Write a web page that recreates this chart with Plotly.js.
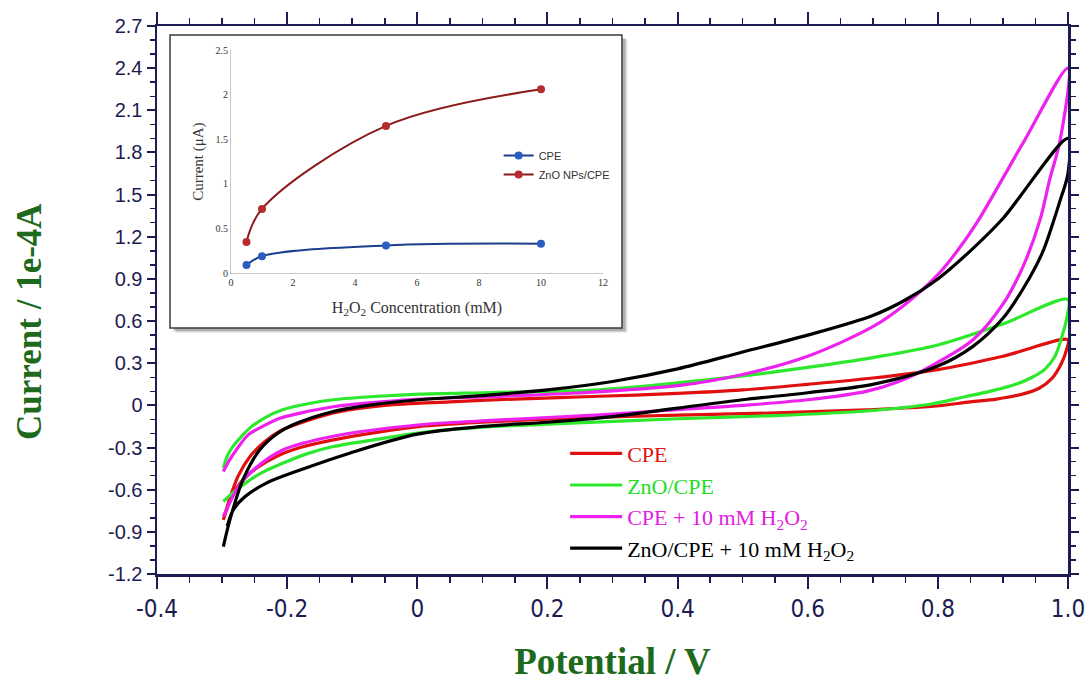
<!DOCTYPE html>
<html>
<head>
<meta charset="utf-8">
<script src="https://cdn.plot.ly/plotly-3.0.1.min.js"></script>
<style>
html,body{margin:0;padding:0;background:#fff;}
#chart{width:1088px;height:682px;}
</style>
</head>
<body>
<div id="chart"></div>
<script>
// ---- Main CV data (Potential / V, Current / 1e-4 A) ----
const potentialCPE = [-0.298,-0.288,-0.275,-0.257,-0.235,-0.21,-0.17,-0.12,-0.05,0.05,0.15,0.28,0.4,0.5,0.6,0.7,0.8,0.9,1.0,
  0.998,0.99,0.975,0.955,0.93,0.89,0.85,0.79,0.69,0.54,0.4,0.245,0.1,0.004,-0.06,-0.129,-0.18,-0.215,-0.245,-0.268,-0.285,-0.297];
const currentCPE = [-0.815,-0.66,-0.50,-0.364,-0.26,-0.18,-0.11,-0.045,0.0,0.025,0.045,0.065,0.085,0.11,0.15,0.195,0.255,0.35,0.467,
  0.40,0.30,0.19,0.12,0.08,0.045,0.025,-0.008,-0.031,-0.055,-0.07,-0.09,-0.12,-0.15,-0.19,-0.245,-0.30,-0.36,-0.44,-0.53,-0.65,-0.80];

const potentialZnO = [-0.298,-0.292,-0.283,-0.27,-0.257,-0.235,-0.206,-0.17,-0.129,-0.06,0.004,0.1,0.2,0.28,0.4,0.5,0.6,0.7,0.8,0.9,1.0,
  0.998,0.99,0.98,0.965,0.945,0.92,0.88,0.84,0.79,0.69,0.537,0.4,0.245,0.1,0.004,-0.06,-0.129,-0.17,-0.206,-0.235,-0.257,-0.28,-0.298];
const currentZnO = [-0.447,-0.36,-0.29,-0.22,-0.16,-0.09,-0.03,0.01,0.04,0.065,0.08,0.09,0.10,0.111,0.16,0.21,0.27,0.34,0.43,0.58,0.753,
  0.62,0.48,0.35,0.26,0.20,0.15,0.10,0.06,0.01,-0.04,-0.075,-0.095,-0.125,-0.155,-0.195,-0.24,-0.293,-0.345,-0.41,-0.47,-0.53,-0.61,-0.684];

const potentialCPEH2O2 = [-0.298,-0.29,-0.278,-0.26,-0.242,-0.21,-0.18,-0.129,-0.078,0.004,0.1,0.245,0.4,0.5,0.6,0.7,0.75,0.8,0.83,0.86,0.93,1.0,
  0.988,0.972,0.957,0.931,0.9,0.854,0.793,0.74,0.69,0.6,0.5,0.4,0.281,0.1,0.004,-0.129,-0.206,-0.252,-0.275,-0.298];
const currentCPEH2O2 = [-0.47,-0.40,-0.316,-0.21,-0.16,-0.09,-0.055,-0.01,0.016,0.045,0.06,0.088,0.14,0.22,0.35,0.56,0.72,0.93,1.1,1.3,1.86,2.40,
  1.89,1.61,1.32,0.99,0.72,0.467,0.289,0.17,0.10,0.04,0.0,-0.03,-0.067,-0.11,-0.138,-0.22,-0.316,-0.46,-0.58,-0.79];

const potentialZnOH2O2 = [-0.298,-0.288,-0.268,-0.242,-0.215,-0.191,-0.129,-0.06,0.004,0.1,0.2,0.3,0.4,0.5,0.6,0.7,0.75,0.8,0.85,0.9,1.0,
  1.0,0.995,0.988,0.977,0.96,0.931,0.9,0.854,0.8,0.7,0.6,0.5,0.4,0.3,0.2,0.1,0.0,-0.104,-0.18,-0.232,-0.265,-0.283,-0.292];
const currentZnOH2O2 = [-1.005,-0.815,-0.53,-0.316,-0.2,-0.138,-0.043,0.01,0.04,0.07,0.11,0.17,0.26,0.38,0.50,0.64,0.75,0.90,1.10,1.33,1.90,
  1.65,1.56,1.46,1.30,1.08,0.83,0.62,0.42,0.28,0.15,0.09,0.04,-0.02,-0.08,-0.12,-0.15,-0.205,-0.34,-0.46,-0.553,-0.65,-0.745,-0.86];

// ---- Inset data ----
const concentration = [0.5, 1, 5, 10];
const insetCPE = [0.09, 0.19, 0.31, 0.33];
const insetZnO = [0.35, 0.72, 1.65, 2.06];

// ---- Tick labels ----
const xTickVals = [-0.4,-0.2,0,0.2,0.4,0.6,0.8,1.0];
const xTickText = ['-0.4','-0.2','0','0.2','0.4','0.6','0.8','1.0'];
const yTickVals = [-1.2,-0.9,-0.6,-0.3,0,0.3,0.6,0.9,1.2,1.5,1.8,2.1,2.4,2.7];
const yTickText = ['-1.2','-0.9','-0.6','-0.3','0','0.3','0.6','0.9','1.2','1.5','1.8','2.1','2.4','2.7'];

const seriesNames = [
  '<span style="color:#e01010">CPE</span>',
  '<span style="color:#22dd22">ZnO/CPE</span>',
  '<span style="color:#e020e0">CPE + 10 mM H<sub>2</sub>O<sub>2</sub></span>',
  '<span style="color:#000000">ZnO/CPE + 10 mM H<sub>2</sub>O<sub>2</sub></span>'
];
const seriesColors = ['#e01010','#2ee82e','#ee22ee','#000000'];

const navy = '#1c1c52';
const green = '#1d6a1d';

function cv(x, y, i) {
  return {x: x, y: y, type: 'scatter', mode: 'lines', name: seriesNames[i],
    line: {color: seriesColors[i], width: 3.2, shape: 'spline', smoothing: 0.9},
    legend: 'legend', legendgroup: 'g' + i, xaxis: 'x', yaxis: 'y'};
}

const traces = [
  cv(potentialCPE, currentCPE, 0),
  cv(potentialZnO, currentZnO, 1),
  cv(potentialCPEH2O2, currentCPEH2O2, 2),
  cv(potentialZnOH2O2, currentZnOH2O2, 3),
  {x: concentration, y: insetCPE, type: 'scatter', mode: 'lines+markers', name: 'CPE',
   line: {color: '#1d3f8f', width: 2, shape: 'spline', smoothing: 1},
   marker: {color: '#2b5cbf', size: 8}, xaxis: 'x2', yaxis: 'y2', legend: 'legend2'},
  {x: concentration, y: insetZnO, type: 'scatter', mode: 'lines+markers', name: 'ZnO NPs/CPE',
   line: {color: '#8b1a1a', width: 2, shape: 'spline', smoothing: 1},
   marker: {color: '#b62c2c', size: 8}, xaxis: 'x2', yaxis: 'y2', legend: 'legend2'}
];

const layout = {
  width: 1088, height: 682,
  margin: {l: 157, r: 20, t: 26, b: 108},
  paper_bgcolor: '#ffffff', plot_bgcolor: '#ffffff',
  showlegend: true,
  xaxis: {
    range: [-0.4, 1.0], tickmode: 'array', tickvals: xTickVals, ticktext: xTickText,
    showgrid: false, zeroline: false, showline: true, linecolor: navy, linewidth: 2.5,
    mirror: 'allticks', ticks: 'outside', ticklen: 12, tickwidth: 2, tickcolor: navy,
    minor: {tickmode: 'linear', tick0: -0.4, dtick: 0.05, ticks: 'outside', ticklen: 6, tickwidth: 1.5, tickcolor: navy, showgrid: false},
    tickfont: {family: 'Liberation Sans Narrow, DejaVu Sans Condensed, Liberation Sans, sans-serif', size: 24, color: navy},
    title: {text: 'Potential / V', font: {family: 'Liberation Serif, Times New Roman, serif', size: 37, color: green, weight: 'bold'}, standoff: 30},
    domain: [0, 1], automargin: false
  },
  yaxis: {
    range: [-1.2, 2.7], tickmode: 'array', tickvals: yTickVals, ticktext: yTickText,
    showgrid: false, zeroline: false, showline: true, linecolor: navy, linewidth: 2.5,
    mirror: 'allticks', ticks: 'outside', ticklen: 8, tickwidth: 2, tickcolor: navy,
    minor: {tickmode: 'linear', tick0: -1.2, dtick: 0.1, ticks: 'outside', ticklen: 5, tickwidth: 1.5, tickcolor: navy, showgrid: false},
    tickfont: {family: 'Liberation Sans, Arial, sans-serif', size: 20, color: navy},
    domain: [0, 1], automargin: false
  },
  xaxis2: {
    domain: [0.0812, 0.4896], anchor: 'y2', range: [0, 12], dtick: 2, tick0: 0,
    showgrid: false, zeroline: false, showline: true, linecolor: '#c8c8c8', linewidth: 1,
    ticks: '', tickfont: {family: 'Liberation Serif, serif', size: 10, color: '#333'},
    title: {text: 'H<sub>2</sub>O<sub>2</sub> Concentration (mM)', font: {family: 'Liberation Serif, serif', size: 16, color: '#333'}, standoff: 14},
    automargin: false
  },
  yaxis2: {
    domain: [0.549, 0.956], anchor: 'x2', range: [0, 2.5], dtick: 0.5, tick0: 0,
    showgrid: false, zeroline: false, showline: true, linecolor: '#c8c8c8', linewidth: 1,
    ticks: '', tickfont: {family: 'Liberation Serif, serif', size: 10, color: '#333'},
    title: {text: 'Current (\u03bcA)', font: {family: 'Liberation Serif, serif', size: 15, color: '#333'}, standoff: 8},
    automargin: false
  },
  annotations: [
    {text: 'Current / 1e-4A', xref: 'paper', yref: 'paper', x: -0.1394, y: 0.46,
     xanchor: 'center', yanchor: 'middle', textangle: -90, showarrow: false,
     font: {family: 'Liberation Serif, Times New Roman, serif', size: 35, color: green, weight: 'bold'}}
  ],
  legend: {
    x: 0.448, y: 0.258, xanchor: 'left', yanchor: 'top',
    bgcolor: 'rgba(255,255,255,0)', borderwidth: 0,
    font: {family: 'Liberation Serif, Times New Roman, serif', size: 22, color: '#000'},
    itemwidth: 52, tracegroupgap: 0, traceorder: 'normal'
  },
  legend2: {
    x: 0.375, y: 0.79, xanchor: 'left', yanchor: 'top',
    bgcolor: 'rgba(255,255,255,0)', borderwidth: 0,
    font: {family: 'Liberation Sans, Arial, sans-serif', size: 11, color: '#333'},
    itemwidth: 30, traceorder: 'normal'
  },
  shapes: [
    {type: 'rect', xref: 'paper', yref: 'paper', x0: 0.0203, x1: 0.5164, y0: 0.4409, y1: 0.9756,
     fillcolor: 'rgba(0,0,0,0.12)', line: {width: 0}, layer: 'below'},
    {type: 'rect', xref: 'paper', yref: 'paper', x0: 0.0183, x1: 0.5144, y0: 0.4429, y1: 0.9776,
     fillcolor: 'rgba(0,0,0,0.22)', line: {width: 0}, layer: 'below'},
    {type: 'rect', xref: 'paper', yref: 'paper', x0: 0.0143, x1: 0.5104, y0: 0.4489, y1: 0.9836,
     fillcolor: '#ffffff', line: {color: '#3a3a3a', width: 1.5}, layer: 'below'}
  ]
};

Plotly.newPlot('chart', traces, layout, {displayModeBar: false, staticPlot: true});
</script>
</body>
</html>
